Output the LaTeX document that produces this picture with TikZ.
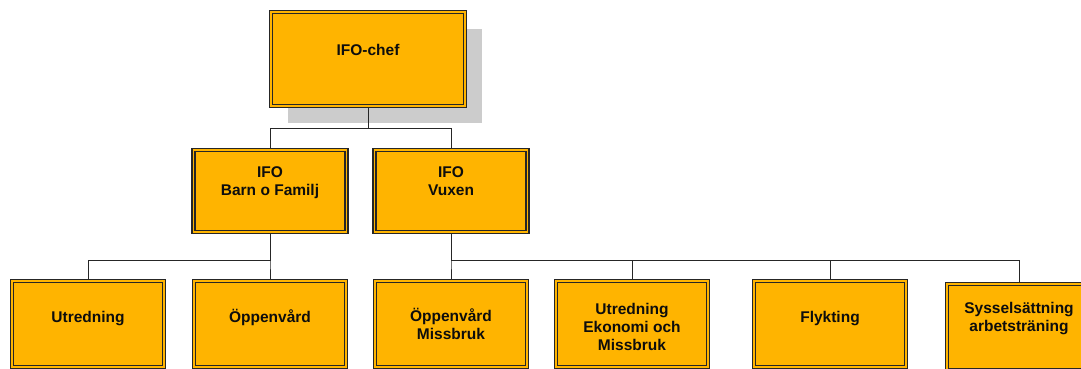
\documentclass[tikz,border=0pt]{standalone}
\usepackage{fontspec}
\setmainfont{Liberation Sans}
\usepackage{xcolor}
\definecolor{boxorange}{RGB}{255,180,0}
\usepackage{tikz}
\usetikzlibrary{shadows}

\begin{document}
\begin{tikzpicture}
	[
	x=1pt, y=-1pt,
	box/.style={draw=black!85, line width=1.2pt, double=boxorange, double distance=1.8pt, fill=boxorange, inner sep=0pt, outer sep=2.1pt, minimum width=152pt, minimum height=86pt},
	midbox/.style={box, minimum width=153pt, minimum height=82pt},
	chefbox/.style={box, minimum width=194pt, minimum height=94pt, drop shadow={shadow xshift=17pt, shadow yshift=-17pt, fill=black!20, opacity=1}},
	boxtext/.style={text=black!95, font=\bfseries\fontsize{15.5}{18}\selectfont, align=center},
	link/.style={draw=black!85, line width=0.8pt}
	]
	\useasboundingbox (0,0) rectangle (1081,369);

	% boxes
	\node[chefbox] (chef) at (368,59) {};
	\node[midbox] (barn) at (270,191) {};
	\node[midbox] (vuxen) at (451,191) {};
	\node[box] (utred) at (88,324) {};
	\node[box] (oppen) at (270,324) {};
	\node[box] (missbruk) at (451,324) {};
	\node[box] (ekonomi) at (632,324) {};
	\node[box] (flykt) at (830,324) {};
	\node[box, minimum width=144pt] (syssel) at (1019,327) {};

	% texts
	\node[boxtext] (chef-t) at (368,49.5) {IFO-chef};
	\node[boxtext] (barn-t) at (270,183) {IFO\\Barn o Familj};
	\node[boxtext] (vuxen-t) at (451,181) {IFO\\Vuxen};
	\node[boxtext] (utred-t) at (88,319) {Utredning};
	\node[boxtext] (oppen-t) at (270,317) {Öppenvård};
	\node[boxtext] (missbruk-t) at (451,324) {Öppenvård\\Missbruk};
	\node[boxtext] (ekonomi-t) at (632,327) {Utredning\\Ekonomi och\\Missbruk};
	\node[boxtext] (flykt-t) at (830,319) {Flykting};
	\node[boxtext] (syssel-t) at (1019,318.5) {Sysselsättning\\arbetsträning};

	% links
	\draw[link] (chef.south) -- ++(0,20) -| (barn.north);
	\draw[link] (chef.south) -- ++(0,20) -| (vuxen.north);
	\draw[link] (barn.south) -- ++(0,26) -| (utred.north);
	\draw[link] (barn.south) -- ++(0,26) -| (oppen.north);
	\draw[link] (vuxen.south) -- ++(0,26) -| (missbruk.north);
	\draw[link] (vuxen.south) -- ++(0,26) -| (ekonomi.north);
	\draw[link] (vuxen.south) -- ++(0,26) -| (flykt.north);
	\draw[link] (vuxen.south) -- ++(0,26) -| (syssel.north);
\end{tikzpicture}
\end{document}
